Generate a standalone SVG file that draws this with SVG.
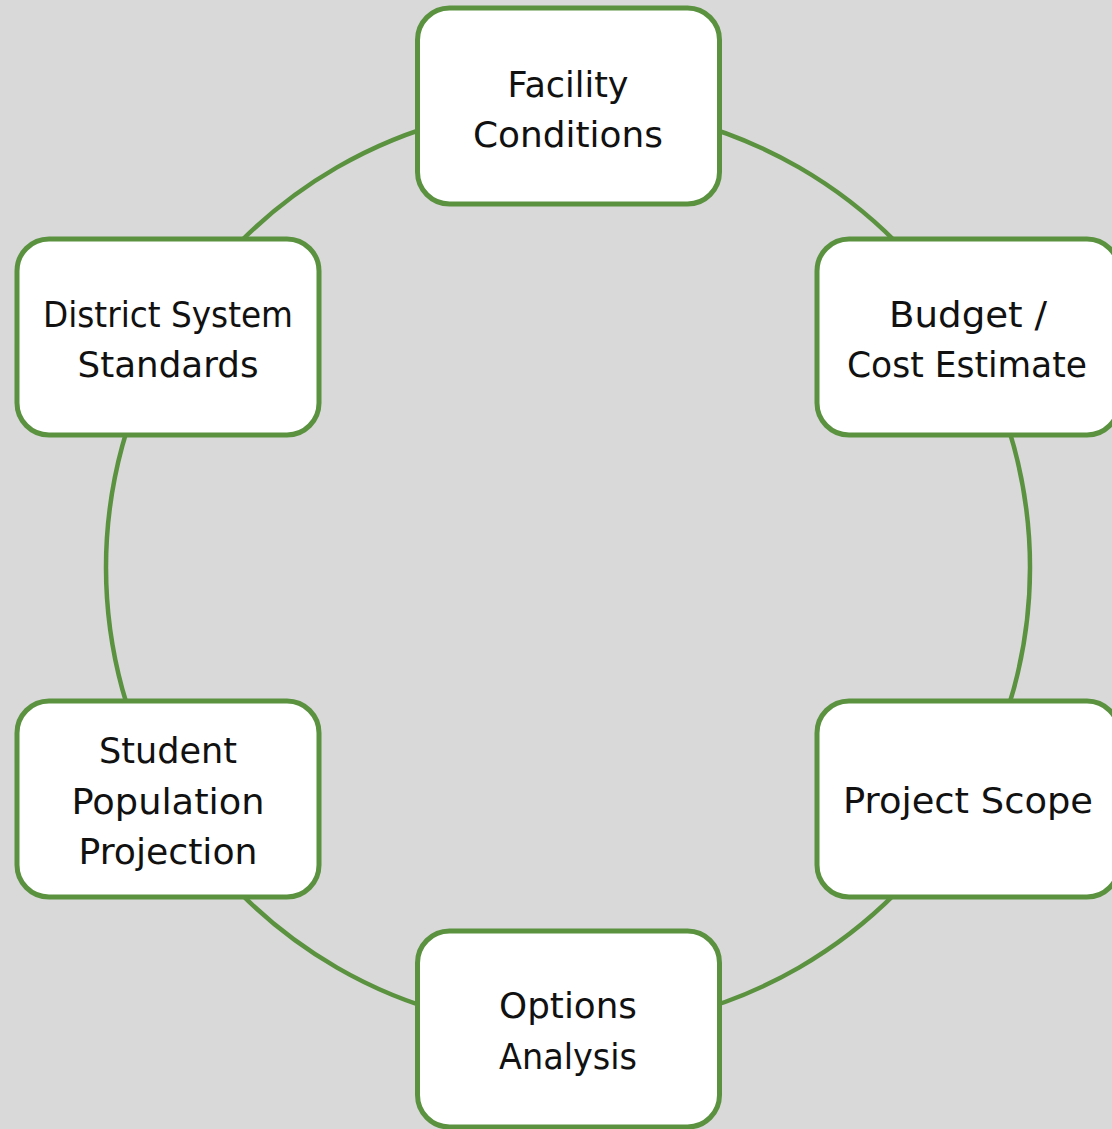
<svg xmlns="http://www.w3.org/2000/svg" width="1112" height="1129" viewBox="0 0 1112 1129">
<style>
.bg{fill:#d9d9d9}
.arc{fill:none;stroke:#5a9240;stroke-width:4.5}
.box{fill:#ffffff;stroke:#5a9240;stroke-width:5}
.lbl{font-family:"DejaVu Sans","Liberation Sans",sans-serif;font-size:35px;fill:#111111;text-anchor:middle}
</style>
<rect class="bg" x="0" y="0" width="1112" height="1129"/>
<g id="connectors">
<path class="arc" d="M568,105.5 A462,462 0 0 1 968.1,336.5"/>
<path class="arc" d="M968.1,336.5 A462,462 0 0 1 968.1,798.5"/>
<path class="arc" d="M968.1,798.5 A462,462 0 0 1 568,1029.5"/>
<path class="arc" d="M568,1029.5 A462,462 0 0 1 167.9,798.5"/>
<path class="arc" d="M167.9,798.5 A462,462 0 0 1 167.9,336.5"/>
<path class="arc" d="M167.9,336.5 A462,462 0 0 1 568,105.5"/>
</g>
<g id="facility-conditions">
<rect class="box" x="417.5" y="8" width="302" height="196" rx="32"/>
<text class="lbl" x="568" y="97" textLength="121" lengthAdjust="spacingAndGlyphs">Facility</text>
<text class="lbl" x="568" y="147" textLength="190" lengthAdjust="spacingAndGlyphs">Conditions</text>
</g>
<g id="budget-cost-estimate">
<rect class="box" x="817" y="239" width="302" height="196" rx="32"/>
<text class="lbl" x="968" y="327" textLength="158" lengthAdjust="spacingAndGlyphs">Budget /</text>
<text class="lbl" x="967" y="377" textLength="240" lengthAdjust="spacingAndGlyphs">Cost Estimate</text>
</g>
<g id="project-scope">
<rect class="box" x="817" y="701" width="302" height="196" rx="32"/>
<text class="lbl" x="968" y="813" textLength="250" lengthAdjust="spacingAndGlyphs">Project Scope</text>
</g>
<g id="options-analysis">
<rect class="box" x="417.5" y="931" width="302" height="196" rx="32"/>
<text class="lbl" x="568" y="1018" textLength="138" lengthAdjust="spacingAndGlyphs">Options</text>
<text class="lbl" x="568" y="1069" textLength="138" lengthAdjust="spacingAndGlyphs">Analysis</text>
</g>
<g id="student-population-projection">
<rect class="box" x="17" y="701" width="302" height="196" rx="32"/>
<text class="lbl" x="168" y="763" textLength="138" lengthAdjust="spacingAndGlyphs">Student</text>
<text class="lbl" x="168" y="814" textLength="193" lengthAdjust="spacingAndGlyphs">Population</text>
<text class="lbl" x="168" y="864" textLength="179" lengthAdjust="spacingAndGlyphs">Projection</text>
</g>
<g id="district-system-standards">
<rect class="box" x="17" y="239" width="302" height="196" rx="32"/>
<text class="lbl" x="168" y="327" textLength="250" lengthAdjust="spacingAndGlyphs">District System</text>
<text class="lbl" x="168" y="377" textLength="181" lengthAdjust="spacingAndGlyphs">Standards</text>
</g>
</svg>
